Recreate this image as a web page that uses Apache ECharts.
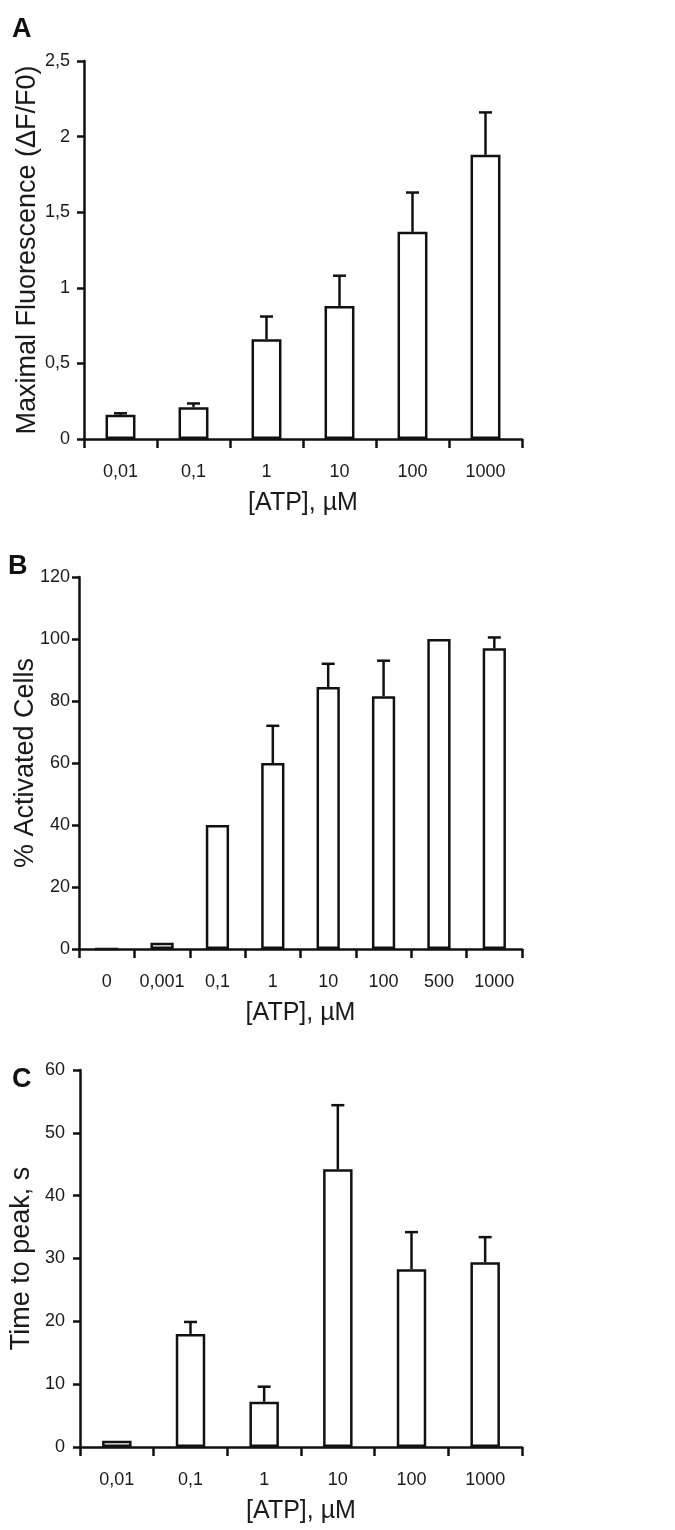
<!DOCTYPE html>
<html>
<head>
<meta charset="utf-8">
<script src="https://cdn.jsdelivr.net/npm/echarts@6/dist/echarts.min.js"></script>
<style>
  html, body { margin: 0; padding: 0; background: #ffffff; }
  #chart { width: 675px; height: 1530px; }
</style>
</head>
<body>
<div id="chart"></div>
<script>
// ---------- Data ----------
const A_CATEGORIES = ['0,01', '0,1', '1', '10', '100', '1000'];
const A_VALUES = [0.16, 0.21, 0.66, 0.88, 1.37, 1.88];
const A_ERRORS = [0.01, 0.025, 0.15, 0.20, 0.26, 0.28];
const A_YTICKS = ['0', '0,5', '1', '1,5', '2', '2,5'];

const B_CATEGORIES = ['0', '0,001', '0,1', '1', '10', '100', '500', '1000'];
const B_VALUES = [0, 2, 40, 60, 84.5, 81.5, 100, 97];
const B_ERRORS = [0, 0, 0, 12, 7.5, 11.5, 0, 3.5];
const B_YTICKS = ['0', '20', '40', '60', '80', '100', '120'];

const C_CATEGORIES = ['0,01', '0,1', '1', '10', '100', '1000'];
const C_VALUES = [1, 18, 7.2, 44.2, 28.3, 29.4];
const C_ERRORS = [0, 1.9, 2.4, 10.2, 5.9, 4.0];
const C_YTICKS = ['0', '10', '20', '30', '40', '50', '60'];

const X_TITLE = '[ATP], µM';
const Y_TITLES = ['Maximal Fluorescence (ΔF/F0)', '% Activated Cells', 'Time to peak, s'];
const PANEL_LABELS = ['A', 'B', 'C'];

// ---------- Style ----------
const INK = '#111111';
const TXT = '#1a1a1a';
const NARROW = '"Liberation Sans Narrow", "Liberation Sans", Arial, sans-serif';
const REG = '"Liberation Sans", Arial, sans-serif';
const LW = 2.5;

const grids = [
  { left: 84, top: 61, width: 438, height: 378 },
  { left: 79, top: 577, width: 443, height: 372 },
  { left: 77, top: 1070, width: 445, height: 377 }
];

function xAxisFor(i, cats) {
  return {
    type: 'category', gridIndex: i, data: cats,
    boundaryGap: true,
    axisLine: { show: true, lineStyle: { color: INK, width: LW } },
    axisTick: { show: true, length: 9, interval: 0, lineStyle: { color: INK, width: LW } },
    axisLabel: { color: TXT, fontFamily: NARROW, fontSize: 18, margin: 24, interval: 0 },
    name: X_TITLE, nameLocation: 'middle', nameGap: 52, nameMoveOverlap: false,
    nameTextStyle: { color: TXT, fontFamily: NARROW, fontSize: 25 }
  };
}
function yAxisFor(i, max, interval, ticks, labelMargin, nameGap) {
  return {
    type: 'value', gridIndex: i, min: 0, max: max, interval: interval,
    splitLine: { show: false },
    axisLine: { show: true, lineStyle: { color: INK, width: LW } },
    axisTick: { show: true, length: 7, lineStyle: { color: INK, width: LW } },
    axisLabel: {
      color: TXT, fontFamily: NARROW, fontSize: 18, margin: labelMargin,
      formatter: function (v, idx) { return ticks[idx] !== undefined ? ticks[idx] : String(v); }
    },
    name: Y_TITLES[i], nameLocation: 'middle', nameRotate: 90, nameGap: nameGap,
    nameMoveOverlap: false,
    nameTextStyle: { color: TXT, fontFamily: REG, fontSize: 27 }
  };
}

function barSeries(i, values, width) {
  return {
    type: 'bar', xAxisIndex: i, yAxisIndex: i, data: values, barWidth: width,
    itemStyle: { color: '#ffffff', borderColor: INK, borderWidth: LW },
    emphasis: { disabled: true }, animation: false, z: 2
  };
}
function errSeries(i, values, errors) {
  const data = values.map((v, k) => [k, v, errors[k]]);
  return {
    type: 'custom', xAxisIndex: i, yAxisIndex: i, data: data, z: 3, animation: false,
    renderItem: function (params, api) {
      const x = api.value(0), v = api.value(1), e = api.value(2);
      if (!e) return null;
      const p0 = api.coord([x, v]);
      const p1 = api.coord([x, v + e]);
      const hw = 6.5;
      return {
        type: 'group',
        children: [
          { type: 'line', shape: { x1: p0[0], y1: p0[1], x2: p1[0], y2: p1[1] }, style: { stroke: INK, lineWidth: LW } },
          { type: 'line', shape: { x1: p1[0] - hw, y1: p1[1], x2: p1[0] + hw, y2: p1[1] }, style: { stroke: INK, lineWidth: LW } }
        ]
      };
    }
  };
}

const chart = echarts.init(document.getElementById('chart'), null, { renderer: 'canvas' });
chart.setOption({
  backgroundColor: '#ffffff',
  animation: false,
  grid: grids,
  xAxis: [xAxisFor(0, A_CATEGORIES), xAxisFor(1, B_CATEGORIES), xAxisFor(2, C_CATEGORIES)],
  yAxis: [
    yAxisFor(0, 2.5, 0.5, A_YTICKS, 14, 43),
    yAxisFor(1, 120, 20, B_YTICKS, 9, 40),
    yAxisFor(2, 60, 10, C_YTICKS, 15, 45)
  ],
  series: [
    barSeries(0, A_VALUES, '41%'), errSeries(0, A_VALUES, A_ERRORS),
    barSeries(1, B_VALUES, '42%'), errSeries(1, B_VALUES, B_ERRORS),
    barSeries(2, C_VALUES, '40%'), errSeries(2, C_VALUES, C_ERRORS)
  ],
  graphic: [
    { type: 'text', left: 12, top: 16, style: { text: PANEL_LABELS[0], fill: INK, font: 'bold 27px "Liberation Sans", Arial, sans-serif' } },
    { type: 'text', left: 8, top: 553, style: { text: PANEL_LABELS[1], fill: INK, font: 'bold 27px "Liberation Sans", Arial, sans-serif' } },
    { type: 'text', left: 12, top: 1066, style: { text: PANEL_LABELS[2], fill: INK, font: 'bold 27px "Liberation Sans", Arial, sans-serif' } }
  ]
});
</script>
</body>
</html>
